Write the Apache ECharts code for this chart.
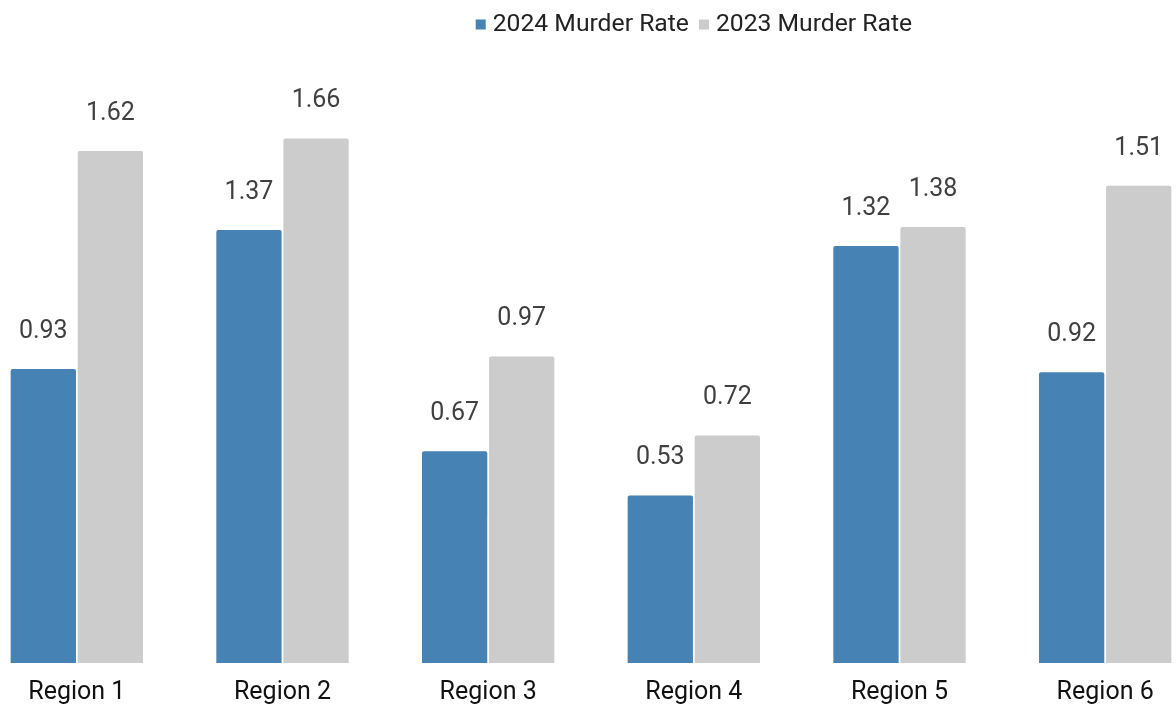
<!DOCTYPE html>
<html>
<head>
<meta charset="utf-8">
<script src="https://cdn.jsdelivr.net/npm/echarts@6/dist/echarts.min.js"></script>
<style>
html,body{margin:0;padding:0;background:#fff;overflow:hidden;width:1176px;height:707px;position:relative;}
#chart{width:1234px;height:707px;position:absolute;left:-25.7px;top:0;}
</style>
</head>
<body>
<div id="chart"></div>
<script>
const categories = ["Region 1", "Region 2", "Region 3", "Region 4", "Region 5", "Region 6"];
const rate2024 = [0.93, 1.37, 0.67, 0.53, 1.32, 0.92];
const rate2023 = [1.62, 1.66, 0.97, 0.72, 1.38, 1.51];
const seriesNames = ["2024 Murder Rate", "2023 Murder Rate"];

const chart = echarts.init(document.getElementById('chart'), null, {renderer: 'canvas'});
const labelStyle = {
  show: true,
  position: 'top',
  distance: 25,
  fontFamily: 'Roboto',
  fontSize: 25,
  color: '#404040',
  formatter: p => p.value.toFixed(2)
};
chart.setOption({
  animation: false,
  backgroundColor: '#ffffff',
  textStyle: {fontFamily: 'Roboto'},
  legend: {
    top: 7,
    left: 496.7,
    itemWidth: 10,
    itemHeight: 10,
    itemGap: 10,
    icon: 'rect',
    textStyle: {fontFamily: 'Roboto', fontSize: 24.7, color: '#222222', padding: [0, 0, 0, 2]},
    data: seriesNames
  },
  grid: {left: 0, right: 0, top: 31, bottom: 44, containLabel: false},
  xAxis: {
    type: 'category',
    data: categories,
    axisLine: {show: false},
    axisTick: {show: false},
    axisLabel: {fontFamily: 'Roboto', fontSize: 25, color: '#111111', margin: 17}
  },
  yAxis: {
    type: 'value',
    min: 0,
    max: 2,
    show: false,
    splitLine: {show: false}
  },
  series: [
    {
      name: seriesNames[0],
      type: 'bar',
      data: rate2024,
      barWidth: 65.3,
      barGap: '2.7%',
      itemStyle: {color: '#4682B4', borderRadius: [2, 2, 0, 0]},
      label: labelStyle
    },
    {
      name: seriesNames[1],
      type: 'bar',
      data: rate2023,
      barWidth: 65.3,
      barGap: '2.7%',
      itemStyle: {color: '#CCCCCC', borderRadius: [2, 2, 0, 0]},
      label: labelStyle
    }
  ]
});
</script>
</body>
</html>
